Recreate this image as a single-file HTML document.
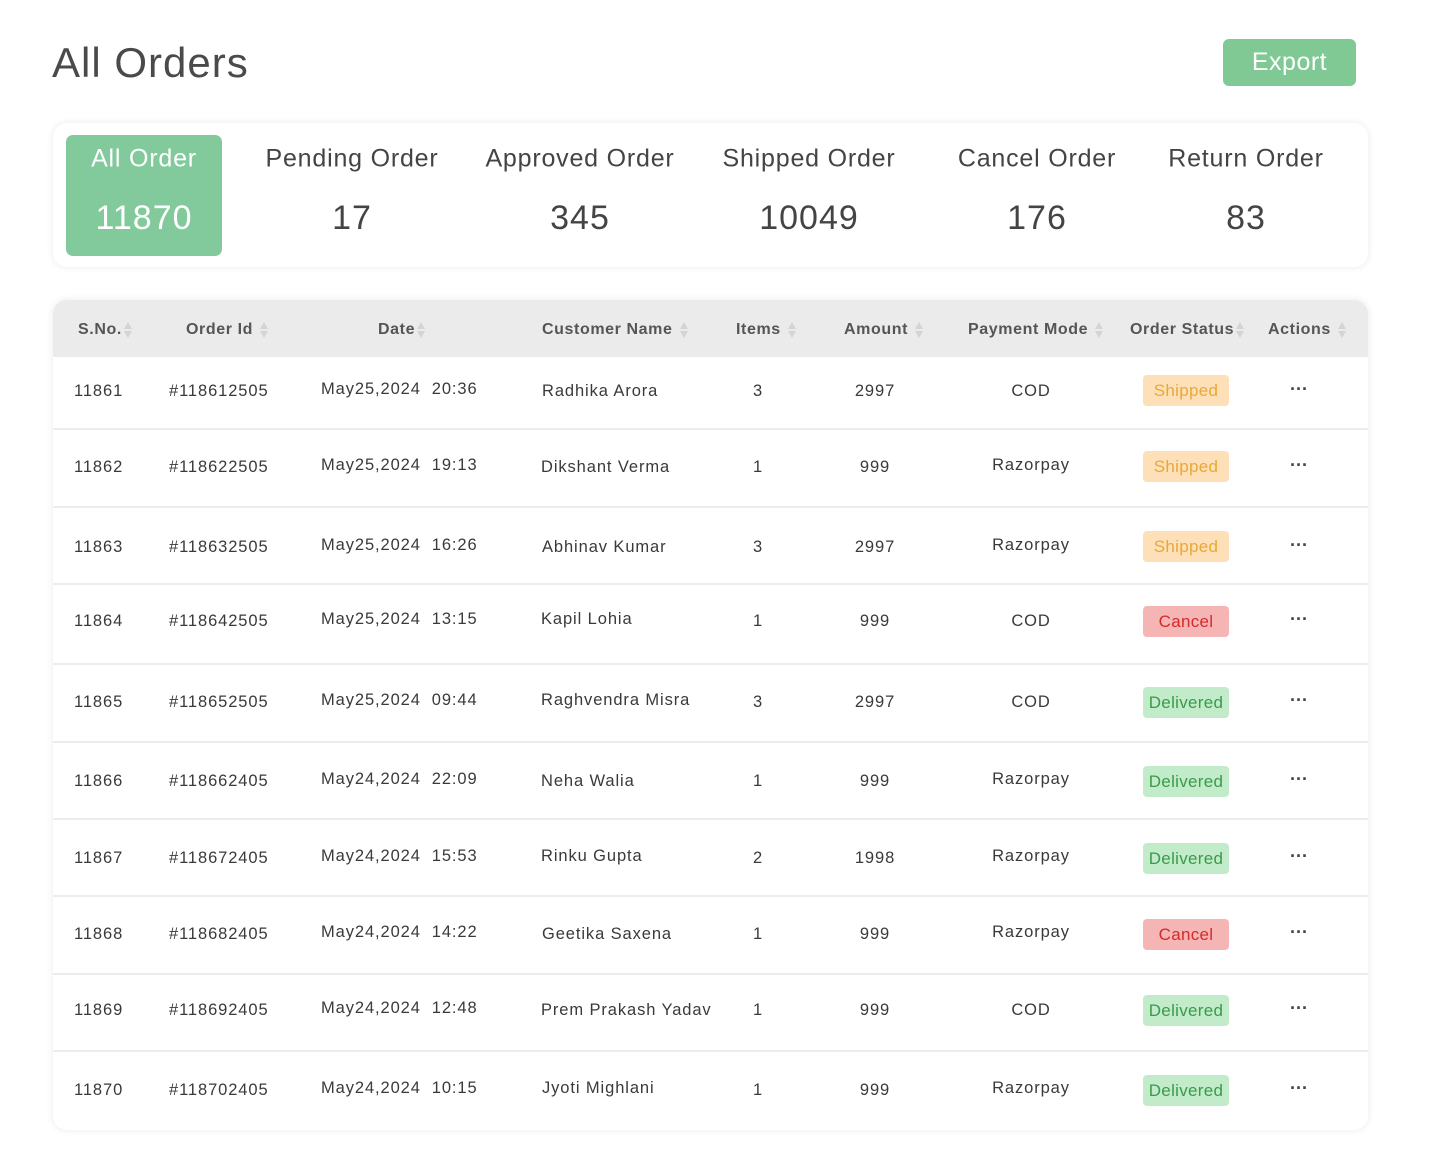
<!DOCTYPE html>
<html><head><meta charset="utf-8"><style>
*{margin:0;padding:0;box-sizing:border-box}
body{width:1434px;height:1161px;background:#fff;font-family:"Liberation Sans",sans-serif;color:#444;position:relative;overflow:hidden}
.a{position:absolute;white-space:nowrap;line-height:1;transform:translateY(-50%)}
.c{position:absolute;white-space:nowrap;line-height:1;transform:translate(-50%,-50%)}
.h{font-size:16px;font-weight:bold;color:#555;letter-spacing:0.6px}
.r{font-size:16.5px;color:#3a3a3a;letter-spacing:0.9px}
.d{font-size:18px;font-weight:bold;color:#444;letter-spacing:0}
.s{display:inline-block;width:9px;height:18px;vertical-align:middle;margin-left:2px;position:relative}
.s:before{content:"";position:absolute;left:0;top:1px;border:4.5px solid transparent;border-bottom:7px solid #d4d4d4;border-top:0}
.s:after{content:"";position:absolute;left:0;top:10px;border:4.5px solid transparent;border-top:7px solid #d4d4d4;border-bottom:0}
.b{position:absolute;left:1143px;width:86px;height:31px;border-radius:4px;font-size:17px;text-align:center;line-height:31px;letter-spacing:0.3px}
.sh{background:#fde0b8;color:#e9a83a}
.ca{background:#f5b5b5;color:#d42a2a}
.de{background:#c2ecc9;color:#3a9a4c}
.ln{position:absolute;left:53px;width:1315px;height:2px;background:#ececec}
.tl{font-size:25px;color:#444;letter-spacing:0.8px}
.tn{font-size:34px;color:#444;letter-spacing:1px}
</style></head><body>
<div class="a" style="left:52px;top:63px;font-size:42px;color:#4a4a4a;letter-spacing:1px">All Orders</div>
<div style="position:absolute;left:1223px;top:39px;width:133px;height:47px;background:#80c994;border-radius:6px;color:#fff;font-size:25px;text-align:center;line-height:46px;letter-spacing:0.5px">Export</div>

<div style="position:absolute;left:53px;top:123px;width:1315px;height:144px;border-radius:14px;background:#fff;box-shadow:0 0 8px rgba(0,0,0,0.09)"></div>
<div style="position:absolute;left:66px;top:135px;width:156px;height:121px;border-radius:7px;background:#82ca9c"></div>
<div class="c tl" style="left:144px;top:159px;color:#fff">All Order</div>
<div class="c tn" style="left:144px;top:218px;color:#fff">11870</div>
<div class="c tl" style="left:352px;top:159px">Pending Order</div>
<div class="c tn" style="left:352px;top:218px">17</div>
<div class="c tl" style="left:580px;top:159px">Approved Order</div>
<div class="c tn" style="left:580px;top:218px">345</div>
<div class="c tl" style="left:809px;top:159px">Shipped Order</div>
<div class="c tn" style="left:809px;top:218px">10049</div>
<div class="c tl" style="left:1037px;top:159px">Cancel Order</div>
<div class="c tn" style="left:1037px;top:218px">176</div>
<div class="c tl" style="left:1246px;top:159px">Return Order</div>
<div class="c tn" style="left:1246px;top:218px">83</div>

<div style="position:absolute;left:53px;top:300px;width:1315px;height:830px;border-radius:14px;background:#fff;box-shadow:0 0 8px rgba(0,0,0,0.09);overflow:hidden">
<div style="height:57px;background:#ebebeb"></div></div>
<div class="a h" style="left:78px;top:330px">S.No.<span class="s"></span></div>
<div class="a h" style="left:186px;top:330px">Order Id <span class="s"></span></div>
<div class="a h" style="left:378px;top:330px">Date<span class="s"></span></div>
<div class="a h" style="left:542px;top:330px">Customer Name <span class="s"></span></div>
<div class="a h" style="left:736px;top:330px">Items <span class="s"></span></div>
<div class="a h" style="left:844px;top:330px">Amount <span class="s"></span></div>
<div class="a h" style="left:968px;top:330px">Payment Mode <span class="s"></span></div>
<div class="a h" style="left:1130px;top:330px">Order Status<span class="s"></span></div>
<div class="a h" style="left:1268px;top:330px">Actions <span class="s"></span></div>

<div class="ln" style="top:428px"></div><div class="ln" style="top:506px"></div><div class="ln" style="top:583px"></div>
<div class="ln" style="top:663px"></div><div class="ln" style="top:741px"></div><div class="ln" style="top:818px"></div>
<div class="ln" style="top:895px"></div><div class="ln" style="top:973px"></div><div class="ln" style="top:1050px"></div>

<div class="a r" style="left:74px;top:391px">11861</div><div class="a r" style="left:169px;top:391px">#118612505</div><div class="a r" style="left:321px;top:389px">May25,2024&nbsp;&nbsp;20:36</div><div class="a r" style="left:542px;top:391px">Radhika Arora</div><div class="c r" style="left:758px;top:391px">3</div><div class="c r" style="left:875px;top:391px">2997</div><div class="c r" style="left:1031px;top:391px">COD</div><div class="b sh" style="top:375px">Shipped</div><div class="c d" style="left:1299px;top:389px">···</div>

<div class="a r" style="left:74px;top:467px">11862</div><div class="a r" style="left:169px;top:467px">#118622505</div><div class="a r" style="left:321px;top:465px">May25,2024&nbsp;&nbsp;19:13</div><div class="a r" style="left:541px;top:467px">Dikshant Verma</div><div class="c r" style="left:758px;top:467px">1</div><div class="c r" style="left:875px;top:467px">999</div><div class="c r" style="left:1031px;top:465px">Razorpay</div><div class="b sh" style="top:451px">Shipped</div><div class="c d" style="left:1299px;top:465px">···</div>

<div class="a r" style="left:74px;top:547px">11863</div><div class="a r" style="left:169px;top:547px">#118632505</div><div class="a r" style="left:321px;top:545px">May25,2024&nbsp;&nbsp;16:26</div><div class="a r" style="left:542px;top:547px">Abhinav Kumar</div><div class="c r" style="left:758px;top:547px">3</div><div class="c r" style="left:875px;top:547px">2997</div><div class="c r" style="left:1031px;top:545px">Razorpay</div><div class="b sh" style="top:531px">Shipped</div><div class="c d" style="left:1299px;top:545px">···</div>

<div class="a r" style="left:74px;top:621px">11864</div><div class="a r" style="left:169px;top:621px">#118642505</div><div class="a r" style="left:321px;top:619px">May25,2024&nbsp;&nbsp;13:15</div><div class="a r" style="left:541px;top:619px">Kapil Lohia</div><div class="c r" style="left:758px;top:621px">1</div><div class="c r" style="left:875px;top:621px">999</div><div class="c r" style="left:1031px;top:621px">COD</div><div class="b ca" style="top:606px">Cancel</div><div class="c d" style="left:1299px;top:619px">···</div>

<div class="a r" style="left:74px;top:702px">11865</div><div class="a r" style="left:169px;top:702px">#118652505</div><div class="a r" style="left:321px;top:700px">May25,2024&nbsp;&nbsp;09:44</div><div class="a r" style="left:541px;top:700px">Raghvendra Misra</div><div class="c r" style="left:758px;top:702px">3</div><div class="c r" style="left:875px;top:702px">2997</div><div class="c r" style="left:1031px;top:702px">COD</div><div class="b de" style="top:687px">Delivered</div><div class="c d" style="left:1299px;top:700px">···</div>

<div class="a r" style="left:74px;top:781px">11866</div><div class="a r" style="left:169px;top:781px">#118662405</div><div class="a r" style="left:321px;top:779px">May24,2024&nbsp;&nbsp;22:09</div><div class="a r" style="left:541px;top:781px">Neha Walia</div><div class="c r" style="left:758px;top:781px">1</div><div class="c r" style="left:875px;top:781px">999</div><div class="c r" style="left:1031px;top:779px">Razorpay</div><div class="b de" style="top:766px">Delivered</div><div class="c d" style="left:1299px;top:779px">···</div>

<div class="a r" style="left:74px;top:858px">11867</div><div class="a r" style="left:169px;top:858px">#118672405</div><div class="a r" style="left:321px;top:856px">May24,2024&nbsp;&nbsp;15:53</div><div class="a r" style="left:541px;top:856px">Rinku Gupta</div><div class="c r" style="left:758px;top:858px">2</div><div class="c r" style="left:875px;top:858px">1998</div><div class="c r" style="left:1031px;top:856px">Razorpay</div><div class="b de" style="top:843px">Delivered</div><div class="c d" style="left:1299px;top:856px">···</div>

<div class="a r" style="left:74px;top:934px">11868</div><div class="a r" style="left:169px;top:934px">#118682405</div><div class="a r" style="left:321px;top:932px">May24,2024&nbsp;&nbsp;14:22</div><div class="a r" style="left:542px;top:934px">Geetika Saxena</div><div class="c r" style="left:758px;top:934px">1</div><div class="c r" style="left:875px;top:934px">999</div><div class="c r" style="left:1031px;top:932px">Razorpay</div><div class="b ca" style="top:919px">Cancel</div><div class="c d" style="left:1299px;top:932px">···</div>

<div class="a r" style="left:74px;top:1010px">11869</div><div class="a r" style="left:169px;top:1010px">#118692405</div><div class="a r" style="left:321px;top:1008px">May24,2024&nbsp;&nbsp;12:48</div><div class="a r" style="left:541px;top:1010px">Prem Prakash Yadav</div><div class="c r" style="left:758px;top:1010px">1</div><div class="c r" style="left:875px;top:1010px">999</div><div class="c r" style="left:1031px;top:1010px">COD</div><div class="b de" style="top:995px">Delivered</div><div class="c d" style="left:1299px;top:1008px">···</div>

<div class="a r" style="left:74px;top:1090px">11870</div><div class="a r" style="left:169px;top:1090px">#118702405</div><div class="a r" style="left:321px;top:1088px">May24,2024&nbsp;&nbsp;10:15</div><div class="a r" style="left:542px;top:1088px">Jyoti Mighlani</div><div class="c r" style="left:758px;top:1090px">1</div><div class="c r" style="left:875px;top:1090px">999</div><div class="c r" style="left:1031px;top:1088px">Razorpay</div><div class="b de" style="top:1075px">Delivered</div><div class="c d" style="left:1299px;top:1088px">···</div>
</body></html>
